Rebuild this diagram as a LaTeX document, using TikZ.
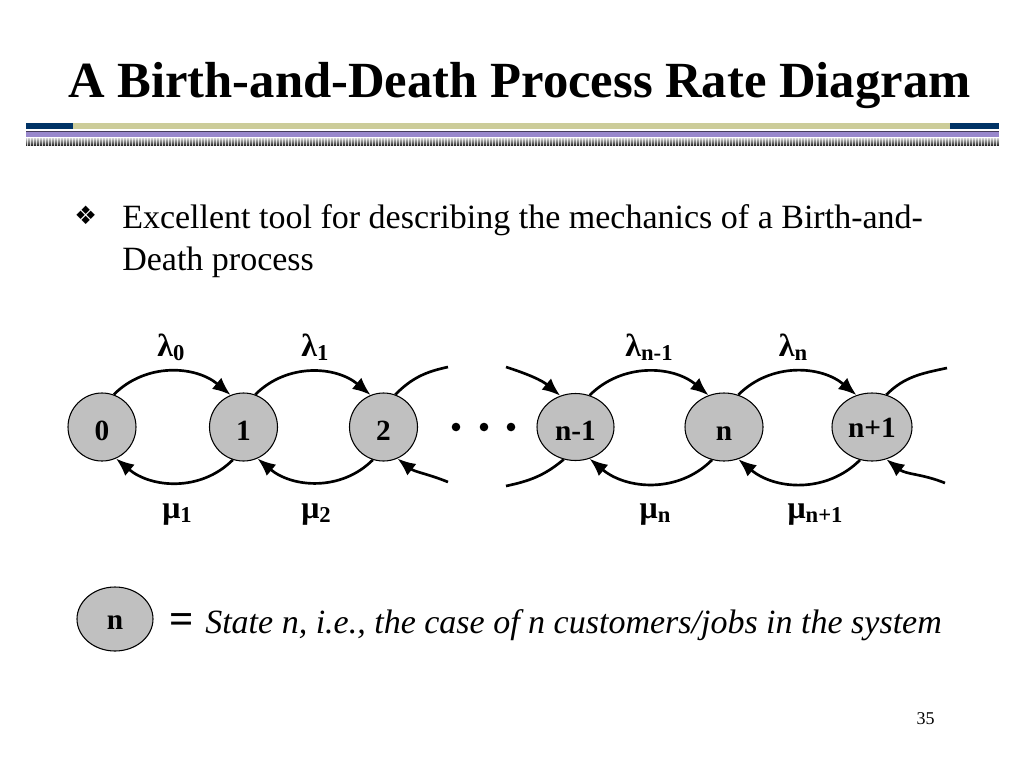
\documentclass[tikz,border=0pt]{standalone}
\usepackage{fontspec}
\setmainfont{Liberation Serif}
\newfontfamily\dejavu{DejaVu Sans}
\usetikzlibrary{arrows.meta,shapes.geometric}
\definecolor{navy}{RGB}{0,51,102}
\definecolor{khaki}{RGB}{204,204,153}
\definecolor{lav}{RGB}{153,136,204}
\definecolor{darkln}{RGB}{70,60,90}
\definecolor{nodegray}{RGB}{192,192,192}
\newcommand\rsub[1]{\raisebox{-3.5pt}{\fontsize{17}{17}\selectfont #1}}
\begin{document}
\begin{tikzpicture}[x=0.75pt,y=-0.75pt,
  state/.style={draw=black, line width=0.8pt, fill=nodegray, ellipse, inner sep=0pt,
    font=\fontsize{22}{22}\selectfont\bfseries, text height=20pt, text depth=0pt},
  conn/.style={line width=2pt, -{Latex[length=13.5pt,width=11pt]}},
  plainc/.style={line width=2pt},
  birth/.style={out=45,in=140},
  death/.style={out=-135,in=-40},
  rate/.style={font=\fontsize{24}{24}\selectfont\bfseries, inner sep=0pt, anchor=base}
]
\useasboundingbox (0,0) rectangle (1024,768);
\fill[white] (0,0) rectangle (1024,768);

% title
\node[anchor=base west, inner sep=0pt, font=\fontsize{38}{38}\selectfont\bfseries] (title) at (68,97) {A Birth-and-Death Process Rate Diagram};

% header bands
\fill[navy] (26,122.7) rectangle (73,129.3);
\fill[khaki] (73,122.7) rectangle (950,129.3);
\fill[navy] (950,122.7) rectangle (999,129.3);
\fill[darkln] (26,130.7) rectangle (999,132);
\fill[lav] (26,132) rectangle (999,136.7);
\shade[top color=black!20, bottom color=black!90] (26,138.3) rectangle (999,145.7);
\foreach \i in {0,...,324} {
  \draw[white, opacity=0.75, line width=0.7pt] (27.5+3*\i,138.3) -- (27.5+3*\i,145.7);
}

% bullet
\node[anchor=base west, inner sep=0pt, font=\dejavu\fontsize{19}{19}\selectfont] (bul) at (74,224) {❖};
\node[anchor=base west, inner sep=0pt, font=\fontsize{25.5}{25.5}\selectfont] (txt1) at (122,228) {Excellent tool for describing the mechanics of a Birth-and-};
\node[anchor=base west, inner sep=0pt, font=\fontsize{25.5}{25.5}\selectfont] (txt2) at (122,270) {Death process};

% states
\node[state, minimum width=51pt, minimum height=51pt] (s0) at (102,427) {0};
\node[state, minimum width=51pt, minimum height=51pt] (s1) at (243.5,427) {1};
\node[state, minimum width=51pt, minimum height=51pt] (s2) at (383.5,427) {2};
\node[state, minimum width=57.75pt, minimum height=50.25pt] (sm1) at (575.5,427) {n-1};
\node[state, minimum width=58.5pt, minimum height=51pt] (sn) at (724,427) {n};
\node[state, minimum width=60pt, minimum height=51pt, text height=15pt] (sp1) at (872,427) {n+1};

% dots
\foreach \x in {456,484,511} {
  \fill (\x,427) circle (4.3);
}

% dangling ends
\coordinate (c2o) at (448,367);
\coordinate (c2i) at (448,482);
\coordinate (cm1i) at (506,367);
\coordinate (cm1o) at (506,486);
\coordinate (cp1o) at (947,368);
\coordinate (cp1i) at (945,483);

% birth arcs
\draw[conn] (s0.70) to[birth] (s1.112);
\draw[conn] (s1.70) to[birth] (s2.112);
\draw[conn] (sm1.66) to[birth] (sn.116);
\draw[conn] (sn.66) to[birth] (sp1.116);
% death arcs
\draw[conn] (s1.-108) to[death] (s0.-66);
\draw[conn] (s2.-108) to[death] (s1.-66);
\draw[conn] (sn.-110) to[death] (sm1.-66);
\draw[conn] (sp1.-110) to[death] (sn.-66);
% dangling
\draw[plainc] (s2.70) to[out=45,in=192] (c2o);
\draw[conn] (c2i) to[out=158,in=-38] (s2.-66);
\draw[conn] (cm1i) to[out=-18,in=140] (sm1.116);
\draw[plainc] (sm1.-110) to[out=-140,in=12] (cm1o);
\draw[plainc] (sp1.66) to[out=45,in=192] (cp1o);
\draw[conn] (cp1i) to[out=158,in=-38] (sp1.-66);

% rate labels
\node[rate] (l0) at (171,356) {λ\rsub{0}};
\node[rate] (l1) at (315,356) {λ\rsub{1}};
\node[rate] (lnm1) at (649,356) {λ\rsub{n-1}};
\node[rate] (ln) at (793,356) {λ\rsub{n}};
\node[rate] (m1) at (177,518) {μ\rsub{1}};
\node[rate] (m2) at (316,518) {μ\rsub{2}};
\node[rate] (mn) at (655,518) {μ\rsub{n}};
\node[rate] (mnp1) at (815,518) {μ\rsub{n+1}};

% legend
\node[state, minimum width=57pt, minimum height=48pt, text height=15pt] (leg) at (115,619) {n};
\node[inner sep=0pt, font=\fontsize{32}{32}\selectfont\bfseries] (eq) at (182,624) {=};
\node[anchor=base west, inner sep=0pt, font=\fontsize{25.5}{25.5}\selectfont\itshape] (legtxt) at (205,633) {State n, i.e., the case of n customers/jobs in the system};

% page number
\node[inner sep=0pt, font=\fontsize{13.5}{13.5}\selectfont] (pg) at (925.5,719) {35};
\end{tikzpicture}
\end{document}
